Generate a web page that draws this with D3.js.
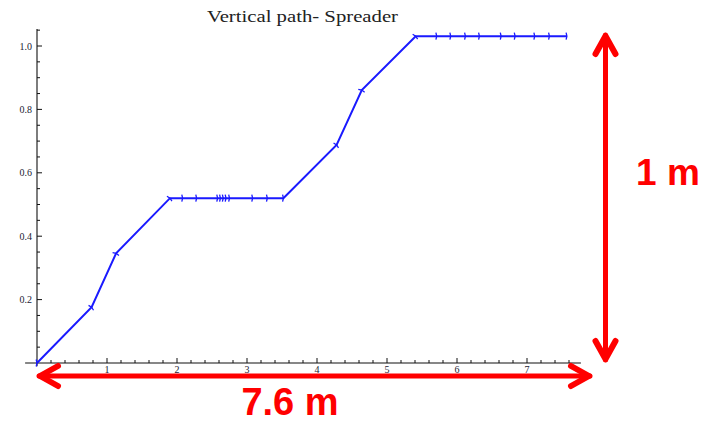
<!DOCTYPE html>
<html><head><meta charset="utf-8">
<script src="https://cdn.jsdelivr.net/npm/d3@7"></script>
<style>body{margin:0;background:#fff}svg{display:block}</style>
</head><body>
<svg id="c" width="710" height="422"></svg>
<script>
const titleText = "Vertical path- Spreader";
const xVals = [0, 0.78, 1.13, 1.90, 2.08, 2.28, 2.58, 2.62, 2.66, 2.70, 2.75, 3.08, 3.29, 3.52, 4.28, 4.64, 5.41, 5.71, 5.91, 6.12, 6.32, 6.63, 6.83, 7.11, 7.32, 7.57];
const yVals = [0, 0.176, 0.346, 0.52, 0.52, 0.52, 0.52, 0.52, 0.52, 0.52, 0.52, 0.52, 0.52, 0.52, 0.688, 0.861, 1.031, 1.031, 1.031, 1.031, 1.031, 1.031, 1.031, 1.031, 1.031, 1.031];
const xTicks = [1, 2, 3, 4, 5, 6, 7];
const yTicks = [0.2, 0.4, 0.6, 0.8, 1.0];
const yTickLabels = ["0.2", "0.4", "0.6", "0.8", "1.0"];
const widthLabel = "7.6 m";
const heightLabel = "1 m";

const svg = d3.select("#c");
const x = d3.scaleLinear().domain([0, 7]).range([37, 527]);
const y = d3.scaleLinear().domain([0, 1]).range([363, 46]);

// title
svg.append("text").attr("x", 207).attr("y", 22)
  .attr("font-family", "Liberation Serif, Times New Roman, serif").attr("font-size", 16)
  .attr("fill", "#222").attr("textLength", 191).attr("lengthAdjust", "spacingAndGlyphs")
  .text(titleText);

const axisCol = "#111";
svg.append("line").attr("x1", x(-0.17)).attr("x2", x(7.77)).attr("y1", y(0)).attr("y2", y(0))
  .attr("stroke", axisCol).attr("stroke-width", 1.1);
svg.append("line").attr("x1", x(0)).attr("x2", x(0)).attr("y1", y(1.054)).attr("y2", y(-0.01))
  .attr("stroke", axisCol).attr("stroke-width", 1.1);

const xMinor = d3.range(0.2, 7.75, 0.2);
svg.append("g").selectAll("line").data(xMinor).join("line")
  .attr("x1", d => x(d)).attr("x2", d => x(d))
  .attr("y1", y(0)).attr("y2", d => y(0) - (Math.abs(d - Math.round(d)) < 1e-6 ? 5 : 3))
  .attr("stroke", axisCol).attr("stroke-width", 1);
svg.append("g").selectAll("text").data(xTicks).join("text")
  .attr("x", d => x(d)).attr("y", 373).attr("text-anchor", "middle")
  .attr("font-family", "Liberation Serif, serif").attr("font-size", 10).attr("fill", "#223")
  .text(d => d);

const yMinor = d3.range(0.05, 1.051, 0.05);
svg.append("g").selectAll("line").data(yMinor).join("line")
  .attr("y1", d => y(d)).attr("y2", d => y(d))
  .attr("x1", x(0)).attr("x2", d => x(0) + (Math.abs(d * 5 - Math.round(d * 5)) < 1e-6 ? 5 : 3))
  .attr("stroke", axisCol).attr("stroke-width", 1);
svg.append("g").selectAll("text").data(yTicks).join("text")
  .attr("x", 32).attr("y", d => y(d) + 3.5).attr("text-anchor", "end")
  .attr("font-family", "Liberation Serif, serif").attr("font-size", 10).attr("fill", "#223")
  .text((d, i) => yTickLabels[i]);

const pts = xVals.map((v, i) => [v, yVals[i]]);
svg.append("path").datum(pts)
  .attr("d", d3.line().x(d => x(d[0])).y(d => y(d[1])))
  .attr("fill", "none").attr("stroke", "#1a1aff").attr("stroke-width", 2);

const heads = pts.map((p, i) => {
  const prev = i === 0 ? [p[0] - 0.1, p[1]] : pts[i - 1];
  const dx = x(p[0]) - x(prev[0]), dy = y(p[1]) - y(prev[1]);
  return {px: x(p[0]), py: y(p[1]), ang: Math.atan2(dy, dx) * 180 / Math.PI};
});
svg.append("g").selectAll("path").data(heads).join("path")
  .attr("transform", d => `translate(${d.px},${d.py}) rotate(${d.ang})`)
  .attr("d", "M-0.8,-3.5 L0,0 L-0.8,3.5")
  .attr("fill", "none").attr("stroke", "#1a1aff").attr("stroke-width", 1.3);

const red = "#ff0000";
function dimArrow(x1, y1, x2, y2) {
  const g = svg.append("g").attr("stroke", red).attr("fill", "none")
    .attr("stroke-linecap", "round").attr("stroke-linejoin", "round");
  g.append("line").attr("x1", x1).attr("y1", y1).attr("x2", x2).attr("y2", y2).attr("stroke-width", 5);
  const ang = Math.atan2(y2 - y1, x2 - x1);
  [[x2, y2, ang], [x1, y1, ang + Math.PI]].forEach(([tx, ty, a]) => {
    g.append("path")
      .attr("transform", `translate(${tx},${ty}) rotate(${a * 180 / Math.PI})`)
      .attr("d", "M-19,-10 L-1,0 L-19,10").attr("stroke-width", 6);
  });
}
dimArrow(39, 376, 590, 376);
dimArrow(605.5, 35, 605.5, 360);

svg.append("text").attr("x", 290).attr("y", 415).attr("text-anchor", "middle")
  .attr("font-family", "Liberation Sans, Arial, sans-serif").attr("font-weight", "bold")
  .attr("font-size", 38).attr("fill", red).text(widthLabel);
svg.append("text").attr("x", 668).attr("y", 185).attr("text-anchor", "middle")
  .attr("font-family", "Liberation Sans, Arial, sans-serif").attr("font-weight", "bold")
  .attr("font-size", 37).attr("fill", red).text(heightLabel);
</script>
</body></html>
